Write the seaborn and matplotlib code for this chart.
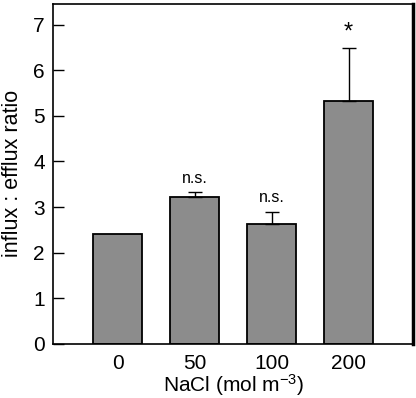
import pandas as pd
import seaborn as sns
import matplotlib.pyplot as plt

# data
nacl = ["0", "50", "100", "200"]
ratio = [2.41, 3.22, 2.63, 5.32]
err = [0.0, 0.10, 0.26, 1.16]
marks = ["", "n.s.", "n.s.", "*"]

df = pd.DataFrame({"NaCl": nacl, "ratio": ratio})

sns.set_style("ticks")
plt.rcParams['font.family'] = ['Liberation Sans', 'DejaVu Sans']
plt.rcParams['mathtext.fontset'] = 'custom'
plt.rcParams['mathtext.rm'] = 'Liberation Sans'
plt.rcParams['mathtext.default'] = 'regular'
plt.rcParams['text.color'] = 'black'
plt.rcParams['axes.labelcolor'] = 'black'
plt.rcParams['xtick.color'] = 'black'
plt.rcParams['ytick.color'] = 'black'
plt.rcParams['axes.edgecolor'] = 'black'

fig, ax = plt.subplots(figsize=(4.16, 3.98), dpi=100)
fig.subplots_adjust(left=0.128, right=0.993, top=0.99, bottom=0.136)

sns.barplot(data=df, x="NaCl", y="ratio", color="#8c8c8c", saturation=1,
            width=0.64, edgecolor="black", linewidth=1.3, ax=ax)

# one-sided error bars
for i, (v, e) in enumerate(zip(ratio, err)):
    if e > 0:
        ax.errorbar(i, v, yerr=[[0], [e]], fmt="none", ecolor="black",
                    elinewidth=1.0, capsize=5, capthick=1.0)
    if marks[i] == "*":
        ax.text(i, v + e + 0.1, marks[i], ha="center", va="bottom", fontsize=17)
    elif marks[i]:
        ax.text(i, v + e + 0.15, marks[i], ha="center", va="bottom", fontsize=11.5)

ax.set_xlim(-0.84, 3.84)
ax.set_ylim(0, 7.45)
ax.set_yticks(range(0, 8))
ax.tick_params(axis="y", direction="in", length=8, width=1.0, labelsize=15, pad=6)
ax.tick_params(axis="x", length=0, labelsize=15, pad=7)
ax.set_xlabel("NaCl (mol m$^{-3}$)", fontsize=15, labelpad=0)
ax.set_ylabel("influx : efflux ratio", fontsize=15.5, labelpad=7)
for s in ax.spines.values():
    s.set_linewidth(1.2)
    s.set_visible(True)
ax.spines["right"].set_linewidth(2.5)

fig.savefig("out.png", dpi=100)
